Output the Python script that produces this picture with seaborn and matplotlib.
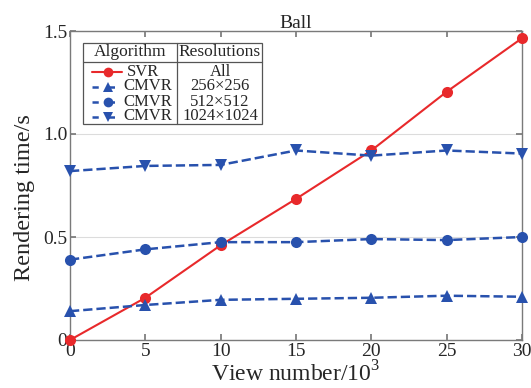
import matplotlib
matplotlib.use("Agg")
import matplotlib.pyplot as plt
import seaborn as sns
import pandas as pd
from matplotlib.lines import Line2D
from matplotlib.patches import Rectangle

views = [0, 5, 10, 15, 20, 25, 30]
svr = [0.0, 0.205, 0.46, 0.685, 0.92, 1.205, 1.465]
cmvr_256 = [0.14, 0.17, 0.195, 0.20, 0.205, 0.215, 0.21]
cmvr_512 = [0.39, 0.44, 0.475, 0.475, 0.49, 0.485, 0.50]
cmvr_1024 = [0.82, 0.845, 0.85, 0.92, 0.895, 0.92, 0.905]
algorithms = ["SVR", "CMVR", "CMVR", "CMVR"]
resolutions = ["All", "256×256", "512×512", "1024×1024"]
yticks = [0, 0.5, 1.0, 1.5]
ytick_labels = ["0", "0.5", "1.0", "1.5"]
xticks = [0, 5, 10, 15, 20, 25, 30]

sns.set_theme(style="white")
plt.rcParams['font.family'] = ['Liberation Serif', 'DejaVu Serif']
plt.rcParams['mathtext.fontset'] = 'custom'
plt.rcParams['mathtext.rm'] = 'Liberation Serif'

RED = "#e8292b"
BLUE = "#2851ad"

AX_L, AX_R, AX_T, AX_B = 70, 522, 31, 340
fig = plt.figure(figsize=(5.31, 3.88), dpi=100)
ax = fig.add_axes([AX_L/531, 1 - AX_B/388, (AX_R-AX_L)/531, (AX_B-AX_T)/388])

styles = [
    (svr, RED, "o", "-", 1.5, 8),
    (cmvr_256, BLUE, "^", "--", 1.8, 9),
    (cmvr_512, BLUE, "o", "--", 1.8, 8),
    (cmvr_1024, BLUE, "v", "--", 1.8, 9),
]
for vals, c, m, ls, lw, ms in styles:
    df = pd.DataFrame({"x": views, "y": vals})
    sns.lineplot(data=df, x="x", y="y", ax=ax, color=c, marker=m, linestyle=ls,
                 linewidth=lw, markersize=ms, markeredgewidth=0, clip_on=False,
                 dashes=False if ls == "-" else (4.5, 2.8), zorder=3)

ax.set_xlim(0, 30)
ax.set_ylim(0, 1.5)
ax.set_xticks(xticks)
ax.set_xticklabels([str(v) for v in xticks])
ax.set_yticks(yticks)
ax.set_yticklabels(ytick_labels)
ax.yaxis.grid(True, color="#dcdcdc", linewidth=0.8)
ax.xaxis.grid(False)
for s in ax.spines.values():
    s.set_color("#7a7a7a")
    s.set_linewidth(1.0)
ax.tick_params(direction="in", length=4, color="#7a7a7a", top=True, right=True,
               bottom=True, left=True, labelsize=14, pad=2)
ax.set_xlabel("View number/10$^3$", fontsize=17)
ax.set_ylabel("Rendering time/s", fontsize=17.5)
ax.set_title("Ball", fontsize=14, pad=2)

def fx(px):
    return (px - AX_L) / (AX_R - AX_L)
def fy(py):
    return (AX_B - py) / (AX_B - AX_T)

ax.xaxis.set_label_coords(0.5, fy(361))
ax.yaxis.set_label_coords(fx(35), fy(198))

# table-style legend
tr = ax.transAxes
box = Rectangle((fx(83), fy(124)), fx(262) - fx(83), fy(43) - fy(124), transform=tr,
                facecolor="white", edgecolor="#555555", linewidth=0.9, zorder=5)
ax.add_patch(box)
ax.add_line(Line2D([fx(83), fx(262)], [fy(62), fy(62)], transform=tr, color="#555555", lw=0.9, zorder=6))
ax.add_line(Line2D([fx(177), fx(177)], [fy(43), fy(124)], transform=tr, color="#555555", lw=0.9, zorder=6))
ax.text(fx(130), fy(52.5), "Algorithm", transform=tr, ha="center", va="center", fontsize=12.5, zorder=7)
ax.text(fx(220), fy(52.5), "Resolutions", transform=tr, ha="center", va="center", fontsize=12.5, zorder=7)

row_y = [71.5, 86.5, 101.5, 116.5]
for (vals, c, m, ls, lw, ms), alg, res, ry in zip(styles, algorithms, resolutions, row_y):
    ax.add_line(Line2D([fx(92), fx(122)], [fy(ry), fy(ry)], transform=tr, color=c,
                       linestyle=ls, lw=lw, dashes=(2.5, 4) if ls == "--" else (None, None), zorder=7))
    ax.add_line(Line2D([fx(107.5)], [fy(ry)], transform=tr, color=c, marker=m,
                       markersize=7, markeredgewidth=0, linestyle="none", zorder=8))
    if alg == "SVR":
        ax.text(fx(143), fy(ry), alg, transform=tr, ha="center", va="center", fontsize=12, zorder=7)
    else:
        ax.text(fx(123), fy(ry), alg, transform=tr, ha="left", va="center", fontsize=12, zorder=7)
    ax.text(fx(220), fy(ry), res, transform=tr, ha="center", va="center", fontsize=12, zorder=7)

fig.savefig("out.png", dpi=100)
